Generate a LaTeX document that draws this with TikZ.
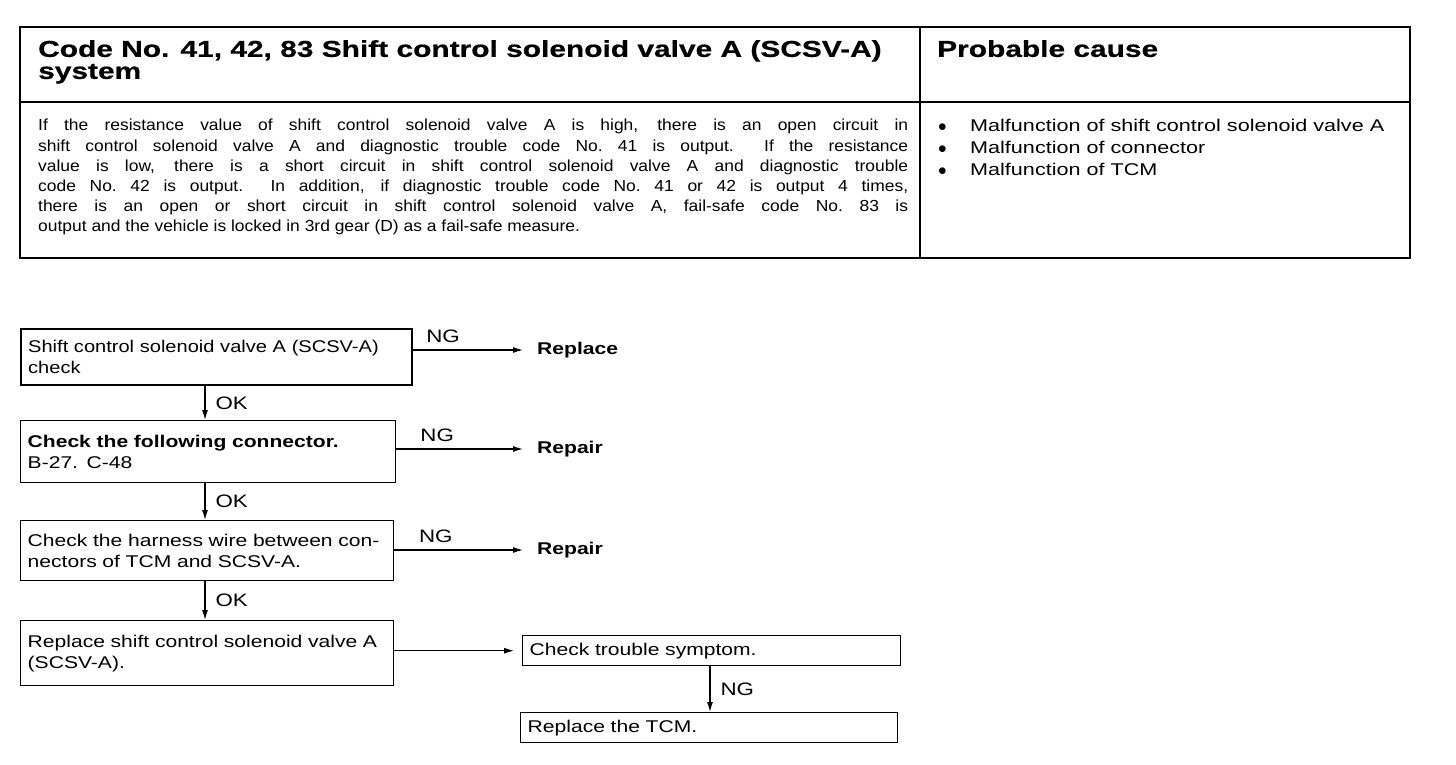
\documentclass[tikz,border=0pt]{standalone}
\usepackage{fontspec}
\setmainfont{Liberation Sans}
\newfontfamily\hdrfont[FakeStretch=1.3,FakeBold=0.6]{Liberation Sans}
\newfontfamily\bodyfont[FakeStretch=1.09]{Liberation Sans}
\newfontfamily\causefont[FakeStretch=1.27]{Liberation Sans}
\newfontfamily\flowfont[FakeStretch=1.24]{Liberation Sans}
\newfontfamily\flowfontnarrow[FakeStretch=1.18]{Liberation Sans}
\usetikzlibrary{arrows.meta,calc}
\begin{document}
\begin{tikzpicture}[x=1pt,y=-1pt,
  tline/.style={line width=1.6pt},
  box/.style={draw,line width=1.4pt,anchor=north west,inner xsep=7pt,inner ysep=0pt,align=left,font=\flowfont\fontsize{17}{21}\selectfont},
  conn/.style={line width=1.2pt,-{Latex[length=10pt,width=6pt]}},
  lbl/.style={font=\flowfont\fontsize{18}{20}\selectfont,inner sep=2pt},
  res/.style={font=\flowfont\bfseries\fontsize{17}{20}\selectfont,inner sep=0pt,anchor=west},
  hdr/.style={font=\hdrfont\bfseries\fontsize{23}{22}\selectfont,inner sep=0pt,anchor=north west,align=left},
  bodytxt/.style={font=\bodyfont\fontsize{16}{20.2}\selectfont,inner sep=0pt,anchor=north west}
]
\useasboundingbox (0,0) rectangle (1456,764);
\fill[white] (0,0) rectangle (1456,764);
% table
\draw[tline] (20,27) rectangle (1410,258);
\draw[tline] (20,102) -- (1410,102);
\draw[tline] (920,27) -- (920,258);
\node[hdr] (h1) at (38,40) {Code No. 41, 42, 83 Shift control solenoid valve A (SCSV-A)\\system};
\node[hdr] (h2) at (937,40) {Probable cause};
\node[bodytxt,text width=870pt,align=justify] (body) at (38,119) {If the resistance value of shift control solenoid valve A is high, there is an open circuit in\linebreak
shift control solenoid valve A and diagnostic trouble code No.~41 is output.\ \ If the resistance\linebreak
value is low, there is a short circuit in shift control solenoid valve A and diagnostic trouble\linebreak
code No.~42 is output.\ \ In addition, if diagnostic trouble code No.~41 or 42 is output 4 times,\linebreak
there is an open or short circuit in shift control solenoid valve A, fail-safe code No.~83 is\linebreak
output and the vehicle is locked in 3rd gear (D) as a fail-safe measure.};
\node[bodytxt,font=\causefont\fontsize{17}{22}\selectfont,align=left] (causes) at (938,119) {%
\makebox[32pt][l]{$\bullet$}Malfunction of shift control solenoid valve A\\
\makebox[32pt][l]{$\bullet$}Malfunction of connector\\
\makebox[32pt][l]{$\bullet$}Malfunction of TCM};
% flowchart
\node[box,line width=2.4pt,text width=377pt,minimum height=56pt,font=\flowfontnarrow\fontsize{17}{21}\selectfont] (b1) at (20,328) {Shift control solenoid valve A (SCSV-A)\\check};
\node[box,text width=361pt,minimum height=62pt] (b2) at (20,420) {\textbf{Check the following connector.}\\B-27. C-48};
\node[box,text width=359pt,minimum height=60pt] (b3) at (20,520) {Check the harness wire between con-\\nectors of TCM and SCSV-A.};
\node[box,text width=359pt,minimum height=65pt] (b4) at (20,620) {Replace shift control solenoid valve A\\(SCSV-A).};
\node[box,text width=364pt,minimum height=30pt] (b5) at (522,635) {Check trouble symptom.};
\node[box,text width=363pt,minimum height=30pt] (b6) at (520,712) {Replace the TCM.};
\node[res] (r1) at (537,350) {Replace};
\node[res] (r2) at (537,449) {Repair};
\node[res] (r3) at (537,550) {Repair};
\draw[conn,shorten >=14pt] (b1.east |- r1.west) -- node[lbl,above,yshift=5pt,pos=0.24]{NG} (r1.west);
\draw[conn,shorten >=14pt] (b2.east |- r2.west) -- node[lbl,above,yshift=5pt,pos=0.29]{NG} (r2.west);
\draw[conn,shorten >=14pt] (b3.east |- r3.west) -- node[lbl,above,yshift=5pt,pos=0.29]{NG} (r3.west);
\draw[conn] (b1.south -| 205,0) -- node[lbl,right,xshift=8pt]{OK} (b2.north -| 205,0);
\draw[conn] (b2.south -| 205,0) -- node[lbl,right,xshift=8pt]{OK} (b3.north -| 205,0);
\draw[conn] (b3.south -| 205,0) -- node[lbl,right,xshift=8pt]{OK} (b4.north -| 205,0);
\draw[conn,shorten >=8pt] (b4.east |- b5.west) -- (b5.west);
\draw[conn] (b5.south -| 710,0) -- node[lbl,right,xshift=8pt]{NG} (b6.north -| 710,0);
\end{tikzpicture}
\end{document}
